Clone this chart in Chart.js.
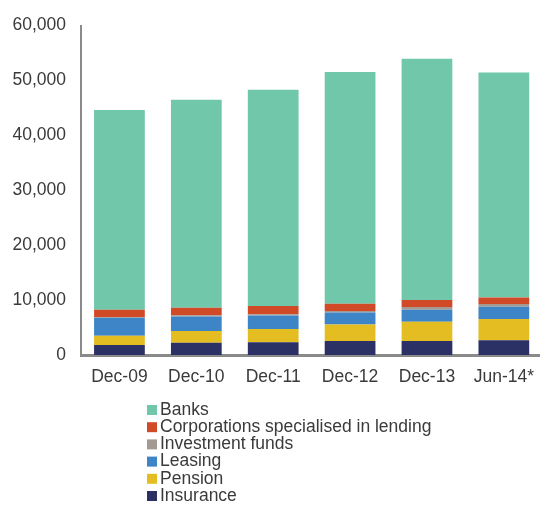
<!DOCTYPE html>
<html>
<head>
<meta charset="utf-8">
<script src="https://cdn.jsdelivr.net/npm/chart.js@4.4.1/dist/chart.umd.min.js"></script>
<style>
  html, body { margin: 0; padding: 0; background: #ffffff; overflow: hidden; }
  #wrap { position: relative; width: 546px; height: 505px; }
</style>
</head>
<body>
<div id="wrap"><canvas id="c" width="546" height="505"></canvas></div>
<script>
const categories = ["Dec-09", "Dec-10", "Dec-11", "Dec-12", "Dec-13", "Jun-14*"];
const insurance   = [1800, 2240, 2300, 2545, 2545, 2670];
const pension     = [1700, 2120, 2430, 3030, 3515, 3875];
const leasing     = [3280, 2670, 2480, 2180, 2180, 2245];
const investment  = [100, 200, 200, 250, 490, 480];
const corporations = [1360, 1370, 1500, 1330, 1270, 1220];
const banks       = [36360, 37890, 39390, 42185, 43940, 40960];
const yTicks = [0, 10000, 20000, 30000, 40000, 50000, 60000];

const FONT = "'Liberation Sans', Arial, sans-serif";
const TXT = "#3a3a3a";

const datasets = [
  { label: "Insurance", data: insurance, backgroundColor: "#2c3165" },
  { label: "Pension", data: pension, backgroundColor: "#e3bd22" },
  { label: "Leasing", data: leasing, backgroundColor: "#3d85c6" },
  { label: "Investment funds", data: investment, backgroundColor: "#a59a91" },
  { label: "Corporations specialised in lending", data: corporations, backgroundColor: "#d04a28" },
  { label: "Banks", data: banks, backgroundColor: "#71c7aa" }
].map(d => Object.assign(d, { barPercentage: 0.66, categoryPercentage: 1.0, borderWidth: 0 }));

const legendPlugin = {
  id: "customLegend",
  afterDraw(chart) {
    const ctx = chart.ctx;
    ctx.save();
    ctx.font = "17.5px " + FONT;
    ctx.textBaseline = "middle";
    ctx.textAlign = "left";
    const items = chart.data.datasets.slice().reverse();
    const x0 = 147, y0 = 409, step = 17.2;
    items.forEach((ds, i) => {
      const y = y0 + i * step;
      ctx.fillStyle = ds.backgroundColor;
      ctx.fillRect(x0, y - 4, 10, 10);
      ctx.fillStyle = TXT;
      ctx.fillText(ds.label, x0 + 13, y + 1);
    });
    ctx.restore();
  }
};

new Chart(document.getElementById("c"), {
  type: "bar",
  data: { labels: categories, datasets: datasets },
  options: {
    responsive: false,
    animation: false,
    locale: "en-US",
    layout: { padding: { top: 25, left: 0, right: 0, bottom: 0 } },
    plugins: { legend: { display: false }, tooltip: { enabled: false } },
    scales: {
      x: {
        stacked: true,
        grid: { display: false, drawTicks: false },
        border: { display: true, color: "#8a8a8a", width: 3 },
        ticks: { color: TXT, font: { family: FONT, size: 17.5 }, padding: 12, maxRotation: 0 },
        afterFit(scale) { scale.height = 150; }
      },
      y: {
        stacked: true,
        min: 0, max: 60000,
        afterBuildTicks(scale) { scale.ticks = yTicks.map(v => ({ value: v })); },
        grid: { display: false, drawTicks: false },
        border: { display: true, color: "#8a8a8a", width: 2 },
        ticks: { color: TXT, font: { family: FONT, size: 17.5 }, padding: 15,
                 callback: v => v.toLocaleString("en-US") },
        afterFit(scale) { scale.width = 81; }
      }
    }
  },
  plugins: [legendPlugin]
});
</script>
</body>
</html>
